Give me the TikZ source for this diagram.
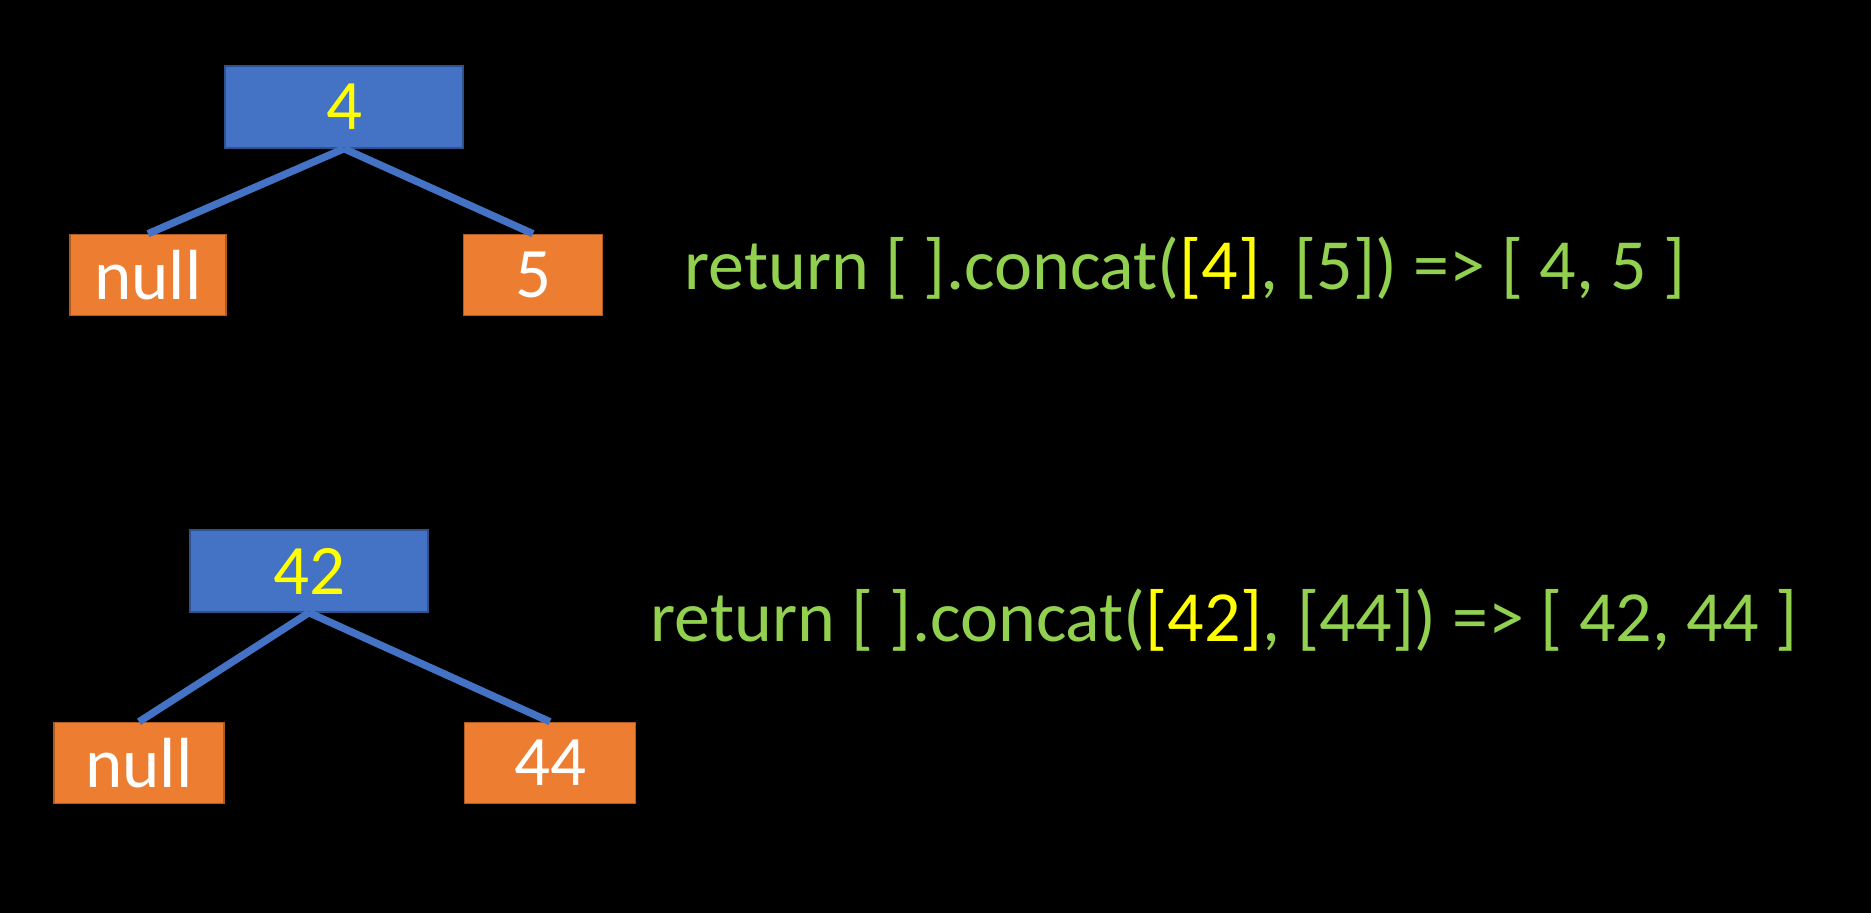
\documentclass[tikz,border=0pt]{standalone}
\usepackage{fontspec}
\setmainfont{Carlito}
\usetikzlibrary{positioning}
\definecolor{boxblue}{HTML}{4472C4}
\definecolor{boxblueline}{HTML}{2F528F}
\definecolor{boxorange}{HTML}{ED7D31}
\definecolor{boxorangeline}{HTML}{AE5A21}
\definecolor{codegreen}{HTML}{92D050}
\definecolor{hiyellow}{HTML}{FFFF00}
\tikzset{
	parent/.style={draw=boxblueline, fill=boxblue, text=hiyellow, minimum height=0.82cm, inner sep=0pt},
	leaf/.style={draw=boxorangeline, fill=boxorange, text=white, minimum height=0.81cm, inner sep=0pt},
	edge/.style={boxblue, line width=2.1pt},
	code/.style={text=codegreen, anchor=base west, inner sep=0pt, font=\fontsize{20.5}{24}\selectfont}
}

\begin{document}
\begin{tikzpicture}[font=\fontsize{20.2}{24}\selectfont]
	\fill[black] (0,0) rectangle (18.71,9.13);
	\useasboundingbox (0,0) rectangle (18.71,9.13);
	
	\node[parent, minimum width=2.38cm] (p4) at (3.44,8.06) {4};
	\node[leaf, minimum width=1.56cm] (l4) at (1.48,6.38) {null};
	\node[leaf, minimum width=1.39cm] (r4) at (5.33,6.38) {5};
	\draw[edge] (p4.south)--(l4.north);
	\draw[edge] (p4.south)--(r4.north);
	
	\node[parent, minimum width=2.38cm] (p42) at (3.09,3.42) {42};
	\node[leaf, minimum width=1.70cm] (l42) at (1.39,1.50) {null};
	\node[leaf, minimum width=1.71cm] (r42) at (5.50,1.50) {44};
	\draw[edge] (p42.south)--(l42.north);
	\draw[edge] (p42.south)--(r42.north);
	
	\node[code] (c4) at (6.84,6.23) {return [ ].concat(\textcolor{hiyellow}{[4]}, [5]) => [ 4, 5 ]};
	\node[code] (c42) at (6.50,2.71) {return [ ].concat(\textcolor{hiyellow}{[42]}, [44]) => [ 42, 44 ]};
\end{tikzpicture}
\end{document}
